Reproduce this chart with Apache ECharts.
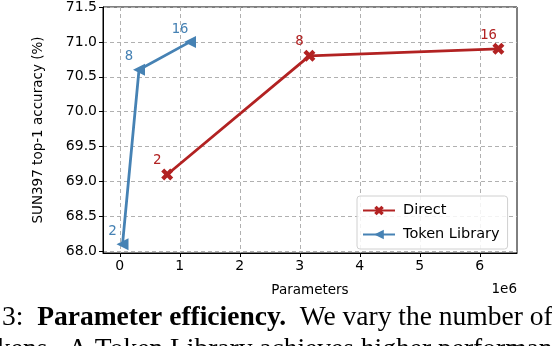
<!DOCTYPE html>
<html>
<head>
<meta charset="utf-8">
<script src="https://cdn.jsdelivr.net/npm/echarts@6/dist/echarts.min.js"></script>
<style>
  html, body { margin: 0; padding: 0; background: #fff; }
  #chart { width: 552px; height: 346px; }
</style>
</head>
<body>
<div id="chart"></div>
<script>
// parameters in millions (axis shows 1e6 offset)
const directParams = [0.79, 3.16, 6.31];
const directAcc = [69.1, 70.8, 70.9];
const directTokens = ["2", "8", "16"];

const libraryParams = [0.045, 0.32, 1.17];
const libraryAcc = [68.1, 70.6, 71.0];
const libraryTokens = ["2", "8", "16"];

const xTicks = [0, 1, 2, 3, 4, 5, 6];
const yTicks = [68.0, 68.5, 69.0, 69.5, 70.0, 70.5, 71.0, 71.5];

const RED = "#b22222";
const BLUE = "#4682b4";
const font = "DejaVu Sans";

const xSymbol = "path://M0,3 L3,0 L6,3 L9,0 L12,3 L9,6 L12,9 L9,12 L6,9 L3,12 L0,9 L3,6 Z";
const leftTri = "path://M0,5 L10,0 L10,10 Z";

const pts = (xs, ys, labels) => xs.map((x, i) => ({ value: [x, ys[i]], name: labels[i] }));

const chart = echarts.init(document.getElementById("chart"), null, { renderer: "canvas" });

const option = {
  animation: false,
  grid: {
    left: 103, right: 35, top: 6, bottom: 93,
    show: true, borderColor: "#000", borderWidth: 1
  },
  xAxis: {
    type: "value",
    min: -0.28, max: 6.62,
    splitNumber: 7,
    name: "Parameters",
    nameLocation: "middle",
    nameGap: 30,
    nameTextStyle: { fontFamily: font, fontSize: 13.5, color: "#000" },
    axisLine: { show: true, onZero: false, lineStyle: { color: "#000", width: 1 } },
    axisTick: { show: true, length: 4, lineStyle: { color: "#000" }, customValues: xTicks },
    axisLabel: { fontFamily: font, fontSize: 14, color: "#000", margin: 6, customValues: xTicks },
    splitLine: { show: true, lineStyle: { color: "#b0b0b0", type: [4, 3], width: 1 } }
  },
  yAxis: {
    type: "value",
    min: 67.975, max: 71.5,
    splitNumber: 7,
    name: "SUN397 top-1 accuracy (%)",
    nameLocation: "middle",
    nameGap: 58,
    nameTextStyle: { fontFamily: font, fontSize: 13.5, color: "#000" },
    axisLine: { show: true, onZero: false, lineStyle: { color: "#000", width: 1 } },
    axisTick: { show: true, length: 4, lineStyle: { color: "#000" }, customValues: yTicks },
    axisLabel: {
      fontFamily: font, fontSize: 14, color: "#000", margin: 6,
      customValues: yTicks,
      formatter: v => v.toFixed(1)
    },
    splitLine: { show: true, lineStyle: { color: "#b0b0b0", type: [4, 3], width: 1 } }
  },
  legend: {
    left: 357, top: 196,
    orient: "vertical",
    backgroundColor: "rgba(255,255,255,0.85)",
    borderColor: "#d0d0d0", borderWidth: 1, borderRadius: 3,
    padding: [7, 8, 7, 5],
    itemGap: 9,
    itemWidth: 32, itemHeight: 12,
    textStyle: { fontFamily: font, fontSize: 14.5, color: "#000", padding: [0, 0, 0, 3] },
    data: ["Direct", "Token Library"]
  },
  series: [
    {
      name: "Direct",
      type: "line",
      data: pts(directParams, directAcc, directTokens),
      color: RED,
      lineStyle: { color: RED, width: 2.8 },
      symbol: xSymbol, symbolSize: 12,
      itemStyle: { color: RED },
      label: {
        show: true, position: "inside", offset: [-10, -14],
        formatter: p => p.name,
        fontFamily: "DejaVu Sans Mono", fontSize: 14, color: RED
      }
    },
    {
      name: "Token Library",
      type: "line",
      data: pts(libraryParams, libraryAcc, libraryTokens),
      color: BLUE,
      lineStyle: { color: BLUE, width: 2.8 },
      symbol: leftTri, symbolSize: 12,
      itemStyle: { color: BLUE },
      label: {
        show: true, position: "inside", offset: [-10, -13],
        formatter: p => p.name,
        fontFamily: "DejaVu Sans Mono", fontSize: 14, color: BLUE
      }
    }
  ],
  graphic: [
    {
      type: "text", right: 35, top: 282,
      style: { text: "1e6", font: "13.5px DejaVu Sans", fill: "#000" }
    },
    {
      type: "text", left: 2, top: 304,
      style: {
        text: "3:  {b|Parameter efficiency.}  We vary the number of",
        font: "27.5px 'Liberation Serif'", fill: "#000",
        rich: { b: { font: "bold 27.5px 'Liberation Serif'", fill: "#000" } }
      }
    },
    {
      type: "text", left: -3, top: 336,
      style: {
        text: "kens.  A Token Library achieves higher performance",
        font: "27.5px 'Liberation Serif'", fill: "#000"
      }
    }
  ]
};

chart.setOption(option);
</script>
</body>
</html>
